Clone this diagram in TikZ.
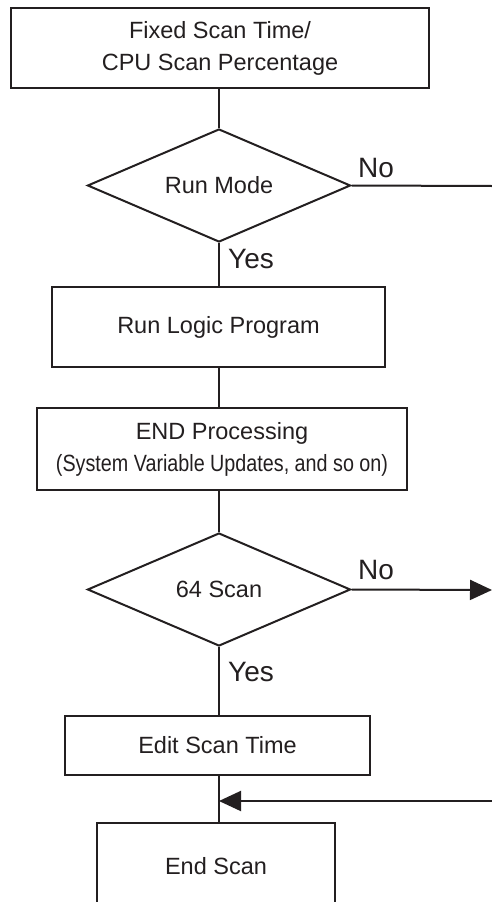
\documentclass[tikz,border=0pt]{standalone}
\usepackage{fontspec}
\setmainfont{Liberation Sans}
\usetikzlibrary{shapes.geometric,arrows.meta}
\definecolor{ink}{RGB}{35,31,32}
\begin{document}
\begin{tikzpicture}[x=1pt,y=-1pt,
  every node/.style={font=\fontsize{23.5}{32}\selectfont, text=ink},
  procbox/.style={draw=ink, line width=2pt, rectangle, inner sep=0pt, align=center},
  decision/.style={draw=ink, line width=2pt, diamond, aspect=2.33, minimum width=263pt, minimum height=113pt, inner sep=0pt},
  flow/.style={draw=ink, line width=2pt},
  arr/.style={flow, -{Triangle[length=22pt,width=20pt]}},
  lbl/.style={font=\fontsize{28}{32}\selectfont, inner sep=0pt, anchor=base west}
]
\clip (0,0) rectangle (492,902);
\fill[white] (0,0) rectangle (492,902);

\coordinate (spine) at (219,0);
\node[procbox, minimum width=418pt, minimum height=80pt] (fixed) at (220,48)
  {Fixed Scan Time/\\CPU Scan Percentage};
\node[decision] (run) at (219,185.5) {Run Mode};
\node[procbox, minimum width=333pt, minimum height=80pt] (logic) at (218.5,327) {Run Logic Program};
\node[procbox, minimum width=370pt, minimum height=82pt] (endp) at (222,449)
  {END Processing\\\scalebox{0.84}[1]{(System Variable Updates, and so on)}};
\node[decision] (scan) at (219,589.5) {64 Scan};
\node[procbox, minimum width=305pt, minimum height=59pt] (edit) at (217.5,745.5) {Edit Scan Time};
\node[procbox, minimum width=238pt, minimum height=86pt] (endscan) at (216,866) {End Scan};

\coordinate (r1) at (492,186);
\coordinate (r2) at (492,590);
\coordinate (r3) at (492,801);
\coordinate (j) at (219,801);

\draw[flow] (spine |- fixed.south) -- (run.north);
\draw[flow] (run.south) -- (spine |- logic.north);
\draw[flow] (spine |- logic.south) -- (spine |- endp.north);
\draw[flow] (spine |- endp.south) -- (scan.north);
\draw[flow] (scan.south) -- (spine |- edit.north);
\draw[flow] (spine |- edit.south) -- (spine |- endscan.north);
\draw[flow] (run.east) -- (r1);
\draw[arr] (scan.east) -- (r2);
\draw[arr] (r3) -- (j);

\node[lbl] (no1) at (358,177) {No};
\node[lbl] (yes1) at (228,268) {Yes};
\node[lbl] (no2) at (358,579) {No};
\node[lbl] (yes2) at (228,681) {Yes};
\end{tikzpicture}
\end{document}
